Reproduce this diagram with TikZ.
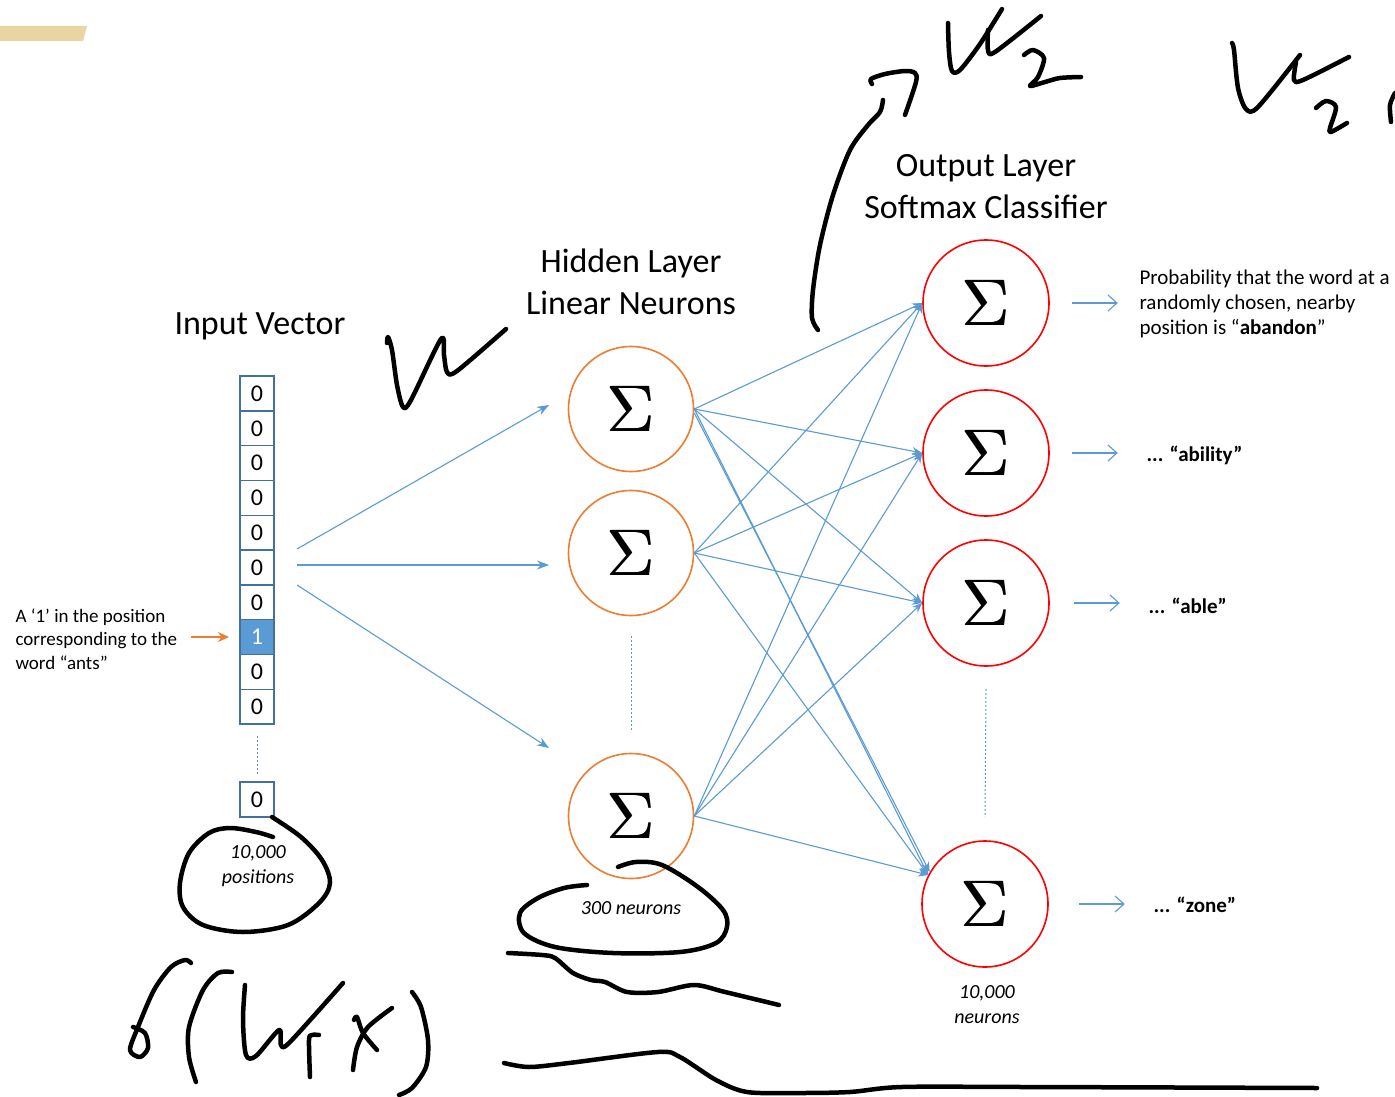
\documentclass[tikz,border=0pt]{standalone}
\usepackage{fontspec}
\setmainfont{Carlito}
\usetikzlibrary{arrows.meta}

\definecolor{lineblue}{RGB}{91,155,213}
\definecolor{boxblue}{RGB}{65,113,156}
\definecolor{neuronorange}{RGB}{237,125,49}
\definecolor{outred}{RGB}{255,0,0}
\definecolor{bartan}{RGB}{232,213,161}

% summation sign, overprinted with a slight offset for heavier strokes
\newcommand\sumsign{\scalebox{6.6}{\rlap{$\Sigma$}\kern0.14pt$\Sigma$}}

\begin{document}
\begin{tikzpicture}[x=1pt,y=-1pt,
  hiddenneuron/.style={circle, draw=neuronorange, line width=1.6pt, minimum size=125pt, inner sep=0pt},
  outneuron/.style={circle, draw=outred, line width=1.6pt, minimum size=126pt, inner sep=0pt},
  cell/.style={draw=boxblue, line width=1.5pt, minimum width=34pt, minimum height=34.8pt, inner sep=0pt,
    font=\fontsize{24}{24}\selectfont},
  hotcell/.style={cell, fill=lineblue, text=white},
  title/.style={font=\fontsize{34}{42}\selectfont, align=center},
  note/.style={font=\fontsize{19}{23.5}\selectfont, align=left},
  prob/.style={font=\fontsize{21}{25}\selectfont, align=left, anchor=west},
  count/.style={font=\fontsize{20}{25}\selectfont\itshape, align=center},
  wire/.style={draw=lineblue, line width=1.1pt},
  feed/.style={wire, -{Stealth[length=12pt,width=9pt]}},
  link/.style={wire, -{Stealth[length=10pt,width=8pt]}},
  outarrow/.style={wire, -{Straight Barb[length=9pt,width=16pt]}},
  dots/.style={draw=boxblue!80, line width=1pt, dash pattern=on 2pt off 2pt},
  ink/.style={draw=black, line width=4.5pt, line cap=round, line join=round}]

\useasboundingbox (0,0) rectangle (1395,1097);
\fill[white] (0,0) rectangle (1395,1097);

% corner tab
\fill[bartan] (0,26) -- (87,26) -- (83,41) -- (0,41) -- cycle;

% titles
\node[title] (tin) at (260,326) {Input Vector};
\node[title] (thid) at (631,282) {Hidden Layer\\Linear Neurons};
\node[title] (tout) at (986,187) {Output Layer\\Softmax Classifier};

% input one-hot vector
\foreach \k in {0,...,9}{
  \ifnum\k=7
    \node[hotcell] (c\k) at (257,{393.5+\k*34.8}) {1};
  \else
    \node[cell] (c\k) at (257,{393.5+\k*34.8}) {0};
  \fi
}
\node[cell] (clast) at (257,799.5) {0};
\draw[dots] ([yshift=-11pt]c9.south) -- ([yshift=7pt]clast.north);

\node[note, anchor=west] (lbl) at (12,639) {A ‘1’ in the position\\corresponding to the\\word “ants”};
\coordinate (oas) at (191,637);
\coordinate (oae) at (229,637);
\draw[draw=neuronorange, line width=2.5pt, -{Stealth[length=11pt,width=10pt]}] (oas) -- (oae);

\node[count] (npos) at (258,866) {10,000\\positions};

% hidden layer
\node[hiddenneuron] (h1) at (631,409) {\sumsign};
\node[hiddenneuron] (h2) at (631,553) {\sumsign};
\node[hiddenneuron] (h3) at (631,816) {\sumsign};
\draw[dots, draw=lineblue] ([yshift=-20pt]h2.south) -- ([yshift=23pt]h3.north);
\node[count] (nhid) at (631,908) {300 neurons};

% input to hidden
\coordinate (i1) at (297,549);
\coordinate (i2) at (297,565);
\coordinate (i3) at (297,585);
\coordinate (e1) at (549,405);
\coordinate (e2) at (549,565);
\coordinate (e3) at (549,748);
\draw[feed] (i1) -- (e1);
\draw[feed] (i2) -- (e2);
\draw[feed] (i3) -- (e3);

% output layer
\node[outneuron] (o1) at (986,303) {\sumsign};
\node[outneuron] (o2) at (986,453) {\sumsign};
\node[outneuron] (o3) at (986,603) {\sumsign};
\node[outneuron] (o4) at (985,904) {\sumsign};
\draw[dots, draw=lineblue] ([yshift=-22pt]o3.south) -- ([yshift=23pt]o4.north);
\node[count] (nout) at (987,1005) {10,000\\neurons};

% hidden to output, fully connected
\foreach \h in {h1,h2,h3}{
  \draw[link] (\h.east) -- (o1.west);
  \draw[link] (\h.east) -- (o2.west);
  \draw[link] (\h.east) -- (o3.west);
  \draw[link] (\h.east) -- (o4.153);
}
\draw[link] ([yshift=-4pt]h1.east) -- (o4.150);

% output probabilities
\draw[outarrow] ([xshift=22pt]o1.east) -- ++(46,0);
\draw[outarrow] ([xshift=22pt]o2.east) -- ++(46,0);
\draw[outarrow] ([xshift=24pt]o3.east) -- ++(46,0);
\draw[outarrow] ([xshift=30pt]o4.east) -- ++(46,0);

\node[prob] (p1) at (1136,304) {Probability that the word at a\\randomly chosen, nearby\\position is “\textbf{abandon}”};
\node[prob] (p2) at (1143,455) {\textbf{... “ability”}};
\node[prob] (p3) at (1145,606) {\textbf{... “able”}};
\node[prob] (p4) at (1150,905) {\textbf{... “zone”}};

% handwritten notes
\draw[ink] plot[smooth, tension=0.5] coordinates {(387,343) (388,337) (392,350) (397,385) (403,407) (411,400) (441,339) (444,355) (447,372) (457,371) (506,329)};

\draw[ink] plot[smooth, tension=0.5] coordinates {(948,23) (949,52) (952,71) (960,70) (980,44) (1002,9)};
\draw[ink] plot[smooth, tension=0.5] coordinates {(988,30) (988,50) (995,52) (1041,16)};
\draw[ink] plot[smooth, tension=0.5] coordinates {(1024,55) (1033,50) (1044,58) (1038,77) (1030,86) (1045,82) (1060,78) (1081,77)};

\draw[ink] plot[smooth, tension=0.5] coordinates {(818,330) (812,318) (813,290) (820,245) (833,195) (850,150) (868,125) (880,112) (883,100)};
\draw[ink] plot[smooth, tension=0.5] coordinates {(872,84) (871,79) (885,74) (905,71) (915,73) (916,82) (905,115)};

\draw[ink] plot[smooth, tension=0.5] coordinates {(1232,43) (1234,50) (1238,88) (1246,109) (1258,107) (1300,55)};
\draw[ink] plot[smooth, tension=0.5] coordinates {(1296,62) (1294,80) (1303,80) (1349,57)};
\draw[ink] plot[smooth, tension=0.5] coordinates {(1316,108) (1326,101) (1336,107) (1330,128) (1331,132) (1347,123)};
\draw[ink] plot[smooth, tension=0.5] coordinates {(1395,93) (1390,105) (1391,122)};

\draw[ink] plot[smooth, tension=0.55] coordinates {(272,817) (301,837) (322,860) (330,883) (319,903) (288,925) (243,932) (203,925) (183,907) (180,883) (189,853) (209,833) (230,828) (256,832) (273,837)};
\draw[ink] plot[smooth, tension=0.55] coordinates {(618,867) (636,862) (662,865) (698,887) (723,910) (727,927) (716,943) (680,952) (613,953) (555,947) (524,933) (520,913) (538,898) (564,888) (587,885)};

\draw[ink] plot[smooth, tension=0.5] coordinates {(508,953) (542,955) (555,958) (573,973) (591,980) (605,982) (627,992) (658,992) (694,985) (725,992) (779,1005)};
\draw[ink] plot[smooth, tension=0.5] coordinates {(504,1063) (529,1067) (569,1063) (658,1052) (680,1057) (716,1080) (747,1092) (800,1093) (850,1092) (902,1087) (1024,1087) (1317,1088)};

\draw[ink] plot[smooth, tension=0.5] coordinates {(191,963) (185,960) (171,967) (154,990) (138,1027) (130,1050) (140,1057) (148,1048) (145,1033) (133,1027)};
\draw[ink] plot[smooth, tension=0.5] coordinates {(232,972) (218,973) (203,990) (189,1027) (189,1057) (196,1082)};
\draw[ink] plot[smooth, tension=0.5] coordinates {(245,985) (243,1020) (246,1055) (256,1056) (279,1030) (281,1045) (290,1042) (343,983)};
\draw[ink] plot[smooth, tension=0.5] coordinates {(310,1077) (309,1040) (312,1035) (319,1035)};
\draw[ink] plot[smooth, tension=0.5] coordinates {(392,1008) (368,1027) (357,1047) (353,1070)};
\draw[ink] plot[smooth, tension=0.5] coordinates {(354,1020) (357,1017) (363,1033) (377,1050)};
\draw[ink] plot[smooth, tension=0.5] coordinates {(412,992) (421,1007) (428,1040) (426,1067) (412,1088) (399,1095)};

\end{tikzpicture}
\end{document}
